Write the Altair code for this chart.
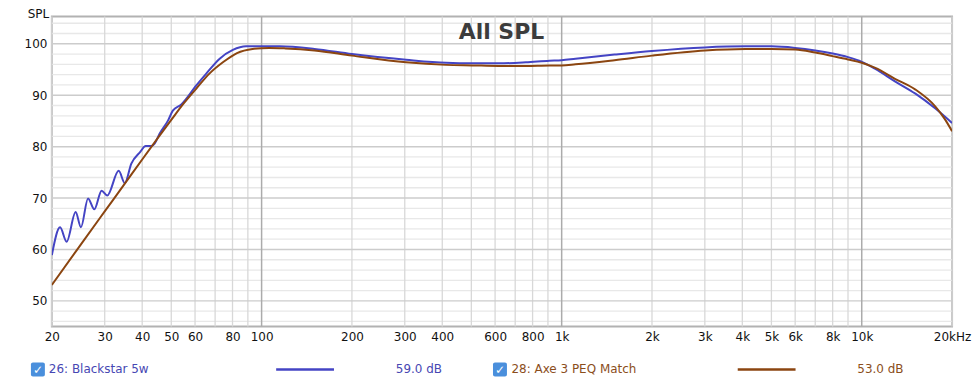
import altair as alt
import pandas as pd

# ---------------- data ----------------
blue_freq = [20, 21.3, 22.4, 24.0, 25.0, 26.4, 27.7, 29.3, 30.6, 33.4, 35.0, 36.8, 39.3,
             41.1, 42.9, 44.0, 45.7, 48.8, 50.6, 54.0, 60.6, 65.4, 72.5, 80.2, 88.8,
             101, 115, 150, 200, 303, 412, 504, 618, 760, 910, 1000, 1112, 1500, 2000,
             3000, 4100, 5000, 6000, 7000, 8000, 9000, 10000, 11100, 12900, 15100,
             17600, 20000]
blue_spl = [58.9, 64.3, 61.5, 67.3, 64.3, 69.9, 67.8, 71.4, 70.5, 75.3, 72.9, 76.7, 78.9,
            80.1, 80.1, 80.6, 82.5, 85.1, 87.0, 88.2, 91.9, 94.2, 97.1, 98.8, 99.5,
            99.5, 99.5, 99.0, 98.0, 96.9, 96.3, 96.2, 96.2, 96.4, 96.7, 96.8, 97.1, 97.9, 98.6,
            99.3, 99.5, 99.5, 99.2, 98.7, 98.1, 97.4, 96.5, 95.1, 92.7, 90.3,
            87.4, 84.6]

brown_freq = [20, 25, 30, 35, 40, 45, 50, 55, 60.6, 67.0, 74.3, 82.8, 93.3, 106, 120, 150,
              200, 303, 412, 504, 618, 760, 910, 1000, 1112, 1500, 2000, 3000, 4100,
              5000, 6000, 7000, 8000, 9000, 10000, 11100, 12900, 15100, 17600, 18900, 20000]
brown_spl = [53.1, 61.0, 67.4, 72.8, 77.5, 81.6, 85.2, 88.4, 91.3, 94.2, 96.4, 98.2, 99.0, 99.2,
             99.1, 98.7, 97.7, 96.4, 95.9, 95.8, 95.7, 95.7, 95.8, 95.8, 96.0, 96.8, 97.7,
             98.7, 99.0, 99.0, 98.9, 98.3, 97.6, 96.95, 96.3, 95.3, 93.2, 91.1, 87.8,
             85.4, 83.0]

series_names = ["26: Blackstar 5w", "28: Axe 3 PEQ Match"]
series_offsets = ["59.0 dB", "53.0 dB"]
line_colors = ["#4444c4", "#8b4510"]
text_colors = ["#4747b3", "#8b4e1c"]

x_label_values = [20, 30, 40, 50, 60, 80, 100, 200, 300, 400, 600, 800, 1000, 2000,
                  3000, 4000, 5000, 6000, 8000, 10000, 20000]
y_label_values = [50, 60, 70, 80, 90, 100]

vgrid_major = [100, 1000, 10000]
vgrid_minor = [m * d for d in (10, 100, 1000) for m in range(2, 10) if m * d >= 20] + [20000]
hgrid_major = [50, 60, 70, 80, 90, 100]
hgrid_minor = [v for v in range(46, 106, 2) if v % 10 != 0]

X_DOMAIN = [20, 20000]
Y_DOMAIN = [45, 105.3]

W, H = 903, 311

# ---------------- build ----------------
df = pd.concat([
    pd.DataFrame({"freq": blue_freq, "spl": blue_spl, "series": series_names[0]}),
    pd.DataFrame({"freq": brown_freq, "spl": brown_spl, "series": series_names[1]}),
])

xscale = alt.Scale(type="log", domain=X_DOMAIN, nice=False)
yscale = alt.Scale(domain=Y_DOMAIN, nice=False, zero=False)

x_axis = alt.Axis(values=x_label_values, title=None, grid=False, ticks=False, domain=False,
                  labelFlush=False, labelOverlap=False, labelPadding=5, labelFontSize=12,
                  labelColor="#111111", labelFont="DejaVu Sans",
                  labelExpr="datum.value >= 20000 ? '20kHz' : (datum.value >= 1000 ? (datum.value/1000) + 'k' : datum.value)")
y_axis = alt.Axis(values=y_label_values, title="SPL", grid=False, ticks=False, domain=False,
                  labelPadding=5, labelFontSize=12, labelColor="#111111", labelFont="DejaVu Sans",
                  titleAngle=0, titleX=-14, titleY=-8, titleAlign="center", titleBaseline="top",
                  titleFontWeight="normal", titleFontSize=12, titleFont="DejaVu Sans",
                  titleColor="#111111")

X = alt.X("freq:Q", scale=xscale, axis=x_axis)
Y = alt.Y("spl:Q", scale=yscale, axis=y_axis)


def vrules(vals, color, width):
    return alt.Chart(pd.DataFrame({"freq": vals})).mark_rule(
        color=color, strokeWidth=width).encode(x=X)


def hrules(vals, color, width):
    return alt.Chart(pd.DataFrame({"spl": vals})).mark_rule(
        color=color, strokeWidth=width).encode(y=Y)


grid = [
    hrules(hgrid_minor, "#e8e8e8", 1.3),
    vrules(vgrid_minor, "#d8d8d8", 1.3),
    hrules(hgrid_major, "#cccccc", 1.5),
    vrules(vgrid_major, "#ababab", 1.5),
]

lines = alt.Chart(df).mark_line(strokeWidth=2, interpolate="monotone", clip=True).encode(
    x=X, y=Y,
    color=alt.Color("series:N", scale=alt.Scale(domain=series_names, range=line_colors), legend=None),
    order=alt.Order("freq:Q"),
)

title = alt.Chart(pd.DataFrame({"t": ["All SPL"]})).mark_text(
    font="DejaVu Sans", fontSize=22, fontWeight="bold", color="#3c3c3c",
    align="center", baseline="middle").encode(
    x=alt.value(451), y=alt.value(16), text="t:N")

# custom legend under the plot
legend_layers = []
cb_x = [-14, 449.5]
name_x = [-3, 461]
line_x = [(225, 283), (688, 746)]
val_x = [345, 808]
LY = 354
for i in range(2):
    one = pd.DataFrame({"name": [series_names[i]], "val": [series_offsets[i]]})
    base = alt.Chart(one)
    legend_layers.append(base.mark_rect(color="#4a8fdc", cornerRadius=2).encode(
        x=alt.value(cb_x[i] - 7), x2=alt.value(cb_x[i] + 7),
        y=alt.value(LY - 7), y2=alt.value(LY + 7)))
    legend_layers.append(base.mark_text(text="\u2713", color="white", fontSize=12,
                                        fontWeight="bold", align="center", baseline="middle",
                                        font="DejaVu Sans").encode(
        x=alt.value(cb_x[i]), y=alt.value(LY + 1)))
    legend_layers.append(base.mark_text(color=text_colors[i], fontSize=12, align="left",
                                        baseline="middle", font="DejaVu Sans").encode(
        x=alt.value(name_x[i]), y=alt.value(LY), text="name:N"))
    legend_layers.append(base.mark_rule(color=line_colors[i], strokeWidth=2.5).encode(
        x=alt.value(line_x[i][0]), x2=alt.value(line_x[i][1]), y=alt.value(LY)))
    legend_layers.append(base.mark_text(color=text_colors[i], fontSize=12, align="left",
                                        baseline="middle", font="DejaVu Sans").encode(
        x=alt.value(val_x[i]), y=alt.value(LY), text="val:N"))

chart = alt.layer(*grid, lines, title, *legend_layers).properties(
    width=W, height=H,
    autosize=alt.AutoSizeParams(type="none"),
    padding={"left": 44, "top": 8, "right": 20, "bottom": 50},
    background="white",
).configure_view(stroke="#b2b2b2", strokeWidth=2)

chart.save("out.html", embed_options={"renderer": "svg", "actions": False})
